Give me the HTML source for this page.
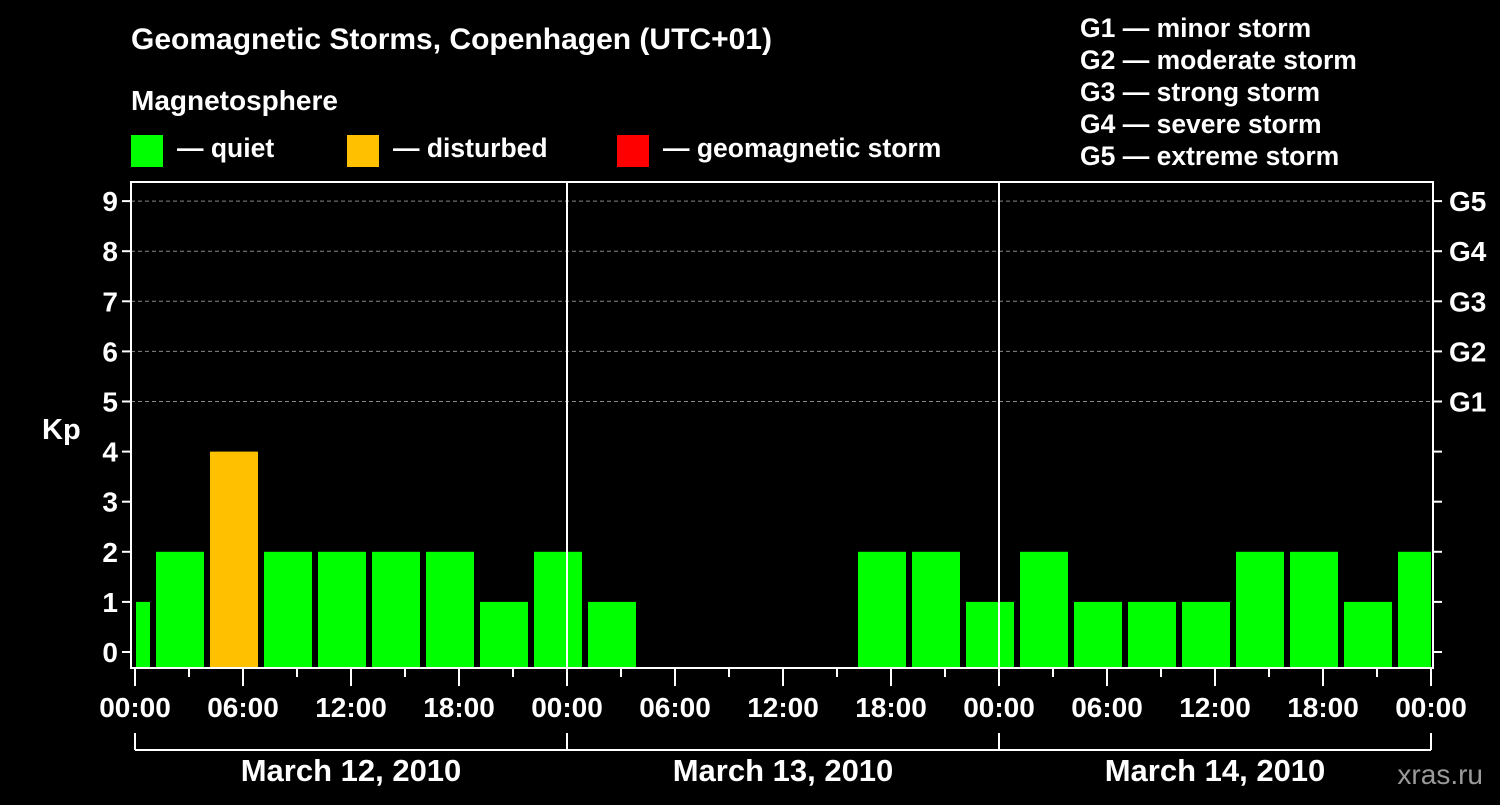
<!DOCTYPE html>
<html><head><meta charset="utf-8"><style>
body{margin:0;background:#000;width:1500px;height:800px;overflow:hidden}
svg text{font-family:"Liberation Sans",sans-serif;font-weight:bold;fill:#fff}
</style></head><body>
<svg id="c" width="1500" height="800">
<text x="131" y="49" font-size="30">Geomagnetic Storms, Copenhagen (UTC+01)</text>
<text x="131" y="110" font-size="28">Magnetosphere</text>
<g><rect x="131" y="135" width="32" height="32" fill="#00ff00"/><text x="177" y="157" font-size="26.5">— quiet</text></g>
<g><rect x="347" y="135" width="32" height="32" fill="#ffc000"/><text x="393" y="157" font-size="26.5">— disturbed</text></g>
<g><rect x="617" y="135" width="32" height="32" fill="#ff0000"/><text x="663" y="157" font-size="26.5">— geomagnetic storm</text></g>
<g font-size="26.5">
<text x="1080" y="37">G1 — minor storm</text><text x="1080" y="69">G2 — moderate storm</text><text x="1080" y="101">G3 — strong storm</text><text x="1080" y="133">G4 — severe storm</text><text x="1080" y="165">G5 — extreme storm</text></g>
<text x="42" y="439" font-size="29">Kp</text>
<text x="1483" y="784" font-size="28" style="fill:#9a9a9a;font-weight:normal" text-anchor="end">xras.ru</text>
<g id="g"></g>
</svg>
<script>
const values=[1,2,4,2,2,2,2,1,2,1,0,0,0,0,2,2,1,2,1,1,1,2,2,1,2];
const startHours=[-2,1,4,7,10,13,16,19,22,25,28,31,34,37,40,43,46,49,52,55,58,61,64,67,70];
const yTicks=[0,1,2,3,4,5,6,7,8,9];
const gLabels=["G1","G2","G3","G4","G5"];
const gLevels=[5,6,7,8,9];
const xLabels=["00:00","06:00","12:00","18:00","00:00","06:00","12:00","18:00","00:00","06:00","12:00","18:00","00:00"];
const days=["March 12, 2010","March 13, 2010","March 14, 2010"];
const NS="http://www.w3.org/2000/svg",g=document.getElementById('g');
const X0=135,PH=18,L=131,R=1433,T=182,B=668;
const x=h=>X0+h*PH, y=v=>652-v*50.1;
function mk(t,a){const e=document.createElementNS(NS,t);for(const k in a)e.setAttribute(k,a[k]);g.appendChild(e);return e;}
yTicks.forEach(v=>{if(v>=5){const l=mk('line',{x1:L,x2:R,y1:y(v),y2:y(v),stroke:'#888','stroke-dasharray':'4,3'});}});
values.forEach((v,i)=>{if(v<=0)return;const a=Math.max(x(startHours[i])+3,X0+1),b=Math.min(x(startHours[i]+3)-3,R-2);
const col=v>=5?'#ff0000':v>=4?'#ffc000':'#00ff00';
const r=mk('rect',{x:a,y:y(v),width:b-a,height:B-1-y(v),fill:col});

});
[1,2].forEach(d=>{const l=mk('line',{x1:x(24*d),x2:x(24*d),y1:T,y2:B,stroke:'#fff','stroke-width':2});});
const fr=mk('rect',{x:L,y:T,width:R-L,height:B-T,fill:'none',stroke:'#fff','stroke-width':2});

yTicks.forEach(v=>{mk('line',{x1:L-9,x2:L,y1:y(v),y2:y(v),stroke:'#fff','stroke-width':2});mk('line',{x1:R,x2:R+9,y1:y(v),y2:y(v),stroke:'#fff','stroke-width':2});
const t=mk('text',{x:118,y:y(v)+10,'font-size':28,'text-anchor':'end'});t.textContent=v;
});
gLabels.forEach((s,i)=>{const t=mk('text',{x:1449,y:y(gLevels[i])+10,'font-size':28});t.textContent=s;
});
for(let h=0;h<=72;h+=3){mk('line',{x1:x(h),x2:x(h),y1:B,y2:h%6==0?686:677,stroke:'#fff','stroke-width':2});}
xLabels.forEach((s,i)=>{const t=mk('text',{x:x(i*6),y:717,'font-size':28,'text-anchor':'middle'});t.textContent=s;
});
mk('line',{x1:x(0),x2:x(72),y1:750,y2:750,stroke:'#fff','stroke-width':2});
[0,1,2,3].forEach(d=>mk('line',{x1:x(24*d),x2:x(24*d),y1:733,y2:750,stroke:'#fff','stroke-width':2}));
days.forEach((s,i)=>{const t=mk('text',{x:x(24*i+12),y:781,'font-size':31,'text-anchor':'middle'});t.textContent=s;
});
</script>
</body></html>
